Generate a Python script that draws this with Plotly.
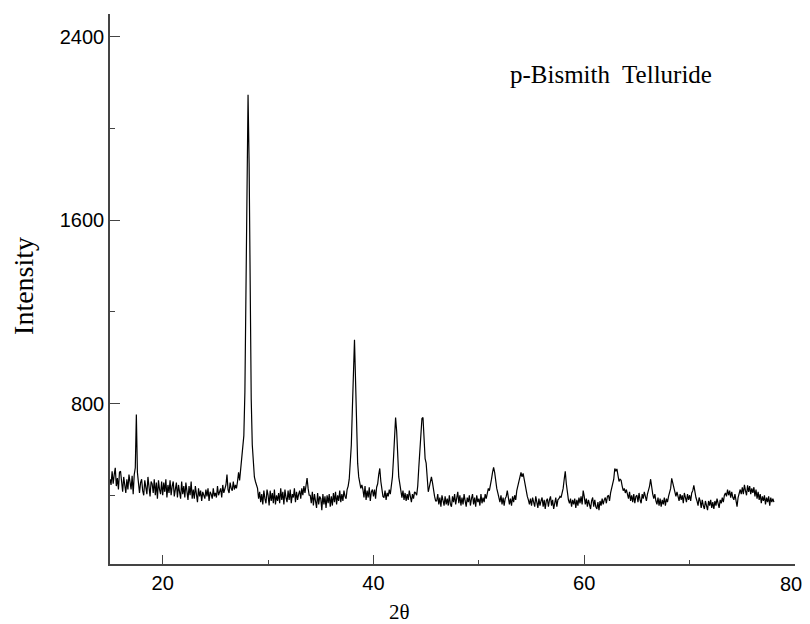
import plotly.graph_objects as go

# 2-theta grid: 15.0 .. 78.0 in steps of 0.1 degree
x_start = 15.0
x_step = 0.1

# Intensity values, one row per degree (10 points each)
intensity_rows = [
    [470, 445, 505, 450, 490, 520, 440, 475, 425, 500],   # 15
    [505, 450, 415, 480, 435, 410, 470, 425, 490, 450],   # 16
    [425, 485, 405, 490, 520, 752, 500, 455, 410, 455],   # 17
    [470, 420, 400, 465, 440, 405, 480, 430, 395, 460],   # 18
    [450, 410, 470, 400, 455, 385, 465, 425, 405, 460],   # 19
    [400, 455, 415, 470, 390, 445, 410, 465, 400, 440],   # 20
    [460, 395, 420, 455, 390, 445, 415, 385, 460, 405],   # 21
    [440, 390, 455, 415, 380, 440, 400, 460, 385, 425],   # 22
    [385, 440, 405, 370, 430, 395, 420, 375, 415, 400],   # 23
    [385, 425, 395, 430, 375, 415, 405, 385, 430, 395],   # 24
    [410, 390, 440, 400, 420, 430, 390, 445, 410, 430],   # 25
    [445, 490, 425, 410, 455, 430, 420, 460, 425, 445],   # 26
    [430, 460, 500, 465, 520, 580, 600, 660, 850, 1300],  # 27
    [1800, 2148, 1850, 1250, 820, 620, 530, 480, 460, 440],  # 28
    [430, 385, 415, 370, 405, 360, 420, 385, 365, 425],   # 29
    [400, 355, 420, 375, 410, 365, 425, 360, 400, 375],   # 30
    [410, 365, 430, 380, 415, 360, 425, 390, 370, 420],   # 31
    [380, 425, 365, 405, 390, 430, 370, 415, 380, 405],   # 32
    [420, 385, 430, 400, 440, 410, 445, 475, 430, 400],   # 33
    [400, 365, 415, 355, 405, 375, 345, 410, 360, 395],   # 34
    [385, 335, 405, 360, 395, 345, 400, 365, 405, 350],   # 35
    [395, 355, 410, 370, 415, 360, 400, 375, 420, 370],   # 36
    [405, 375, 420, 395, 385, 425, 440, 470, 560, 620],   # 37
    [780, 980, 1078, 900, 680, 540, 480, 455, 430, 445],  # 38
    [425, 390, 440, 380, 420, 390, 435, 375, 415, 425],   # 39
    [395, 425, 385, 435, 450, 490, 517, 460, 415, 395],   # 40
    [390, 420, 380, 410, 395, 425, 405, 440, 480, 560],   # 41
    [650, 739, 680, 560, 480, 450, 415, 390, 420, 380],   # 42
    [410, 375, 405, 380, 420, 390, 370, 405, 385, 415],   # 43
    [410, 400, 440, 520, 580, 660, 735, 739, 640, 560],   # 44
    [540, 470, 415, 435, 470, 480, 455, 415, 395, 375],   # 45
    [375, 405, 360, 390, 350, 400, 365, 355, 395, 360],   # 46
    [385, 355, 400, 360, 350, 395, 370, 405, 360, 390],   # 47
    [415, 365, 400, 355, 390, 360, 405, 375, 350, 390],   # 48
    [370, 400, 355, 385, 405, 360, 390, 350, 400, 370],   # 49
    [385, 355, 405, 365, 390, 370, 405, 385, 410, 430],   # 50
    [420, 440, 470, 500, 522, 500, 460, 430, 410, 390],   # 51
    [370, 400, 360, 390, 355, 385, 395, 420, 380, 360],   # 52
    [385, 355, 395, 370, 400, 380, 420, 440, 460, 470],   # 53
    [500, 480, 495, 470, 440, 415, 395, 380, 360, 385],   # 54
    [355, 390, 365, 350, 395, 370, 345, 385, 355, 375],   # 55
    [390, 350, 380, 340, 375, 385, 350, 380, 395, 355],   # 56
    [380, 340, 370, 390, 350, 380, 385, 395, 390, 410],   # 57
    [430, 470, 504, 450, 405, 380, 365, 385, 350, 380],   # 58
    [360, 385, 345, 380, 355, 390, 365, 395, 360, 420],   # 59
    [395, 360, 385, 350, 380, 360, 340, 375, 390, 350],   # 60
    [380, 350, 340, 370, 335, 375, 355, 385, 360, 380],   # 61
    [390, 365, 395, 400, 375, 410, 430, 450, 470, 517],   # 62
    [505, 515, 480, 460, 470, 465, 440, 420, 430, 410],   # 63
    [425, 395, 385, 415, 375, 400, 370, 405, 365, 395],   # 64
    [400, 370, 410, 380, 365, 405, 385, 415, 390, 375],   # 65
    [405, 420, 440, 470, 430, 405, 385, 405, 375, 360],   # 66
    [390, 355, 385, 350, 380, 360, 390, 355, 385, 370],   # 67
    [395, 410, 430, 474, 450, 440, 415, 395, 415, 385],   # 68
    [375, 405, 380, 400, 365, 410, 385, 370, 405, 380],   # 69
    [400, 375, 410, 420, 443, 405, 390, 375, 355, 390],   # 70
    [375, 345, 380, 355, 340, 375, 360, 335, 375, 355],   # 71
    [380, 345, 370, 340, 375, 355, 385, 360, 345, 380],   # 72
    [365, 390, 370, 400, 410, 395, 425, 400, 420, 390],   # 73
    [415, 390, 380, 405, 365, 350, 390, 405, 425, 405],   # 74
    [435, 405, 445, 420, 400, 443, 415, 440, 405, 430],   # 75
    [410, 435, 395, 425, 385, 415, 380, 405, 365, 395],   # 76
    [375, 400, 360, 390, 370, 395, 355, 390, 370, 385],   # 77
    [370],                                                # 78
]

intensity = [v for row in intensity_rows for v in row]
two_theta = [round(x_start + i * x_step, 1) for i in range(len(intensity))]

x_major_ticks = [20, 40, 60, 80]
x_tick_labels = ["20", "40", "60", ""]   # "80" is drawn separately, nudged inward to fit
x_last_label = "80"
x_minor_ticks = [30, 50, 70]
y_major_ticks = [800, 1600, 2400]
y_minor_ticks = [400, 1200, 2000]

axis_color = "#444444"
serif = "Liberation Serif, Times New Roman, serif"
sans = "Liberation Sans, Arial, sans-serif"

fig = go.Figure()
fig.add_trace(go.Scatter(
    x=two_theta, y=intensity, mode="lines",
    line=dict(color="black", width=1.2),
    showlegend=False, hoverinfo="skip",
))

# the page body adds an 8 px offset, so the figure is sized to fill the rest
fig.update_layout(
    width=802, height=616,
    margin=dict(l=102, r=15, t=6, b=60, autoexpand=False),
    paper_bgcolor="white", plot_bgcolor="white",
    showlegend=False,
)

fig.update_xaxes(
    range=[15, 80], showgrid=False, zeroline=False, automargin=False,
    showline=True, linecolor=axis_color, linewidth=1.5,
    tickmode="array", tickvals=x_major_ticks, ticktext=x_tick_labels,
    ticks="inside", ticklen=9, tickwidth=1.3, tickcolor=axis_color,
    tickfont=dict(family=sans, size=20, color="black"),
    minor=dict(tickmode="array", tickvals=x_minor_ticks, ticks="inside",
               ticklen=4, tickwidth=1.3, tickcolor=axis_color),
)
fig.update_yaxes(
    range=[100, 2500], showgrid=False, zeroline=False, automargin=False,
    showline=True, linecolor=axis_color, linewidth=1.5,
    tickmode="array", tickvals=y_major_ticks,
    ticks="inside", ticklen=10, tickwidth=1.3, tickcolor=axis_color,
    tickfont=dict(family=sans, size=20, color="black"),
    minor=dict(tickmode="array", tickvals=y_minor_ticks, ticks="inside",
               ticklen=5, tickwidth=1.3, tickcolor=axis_color),
)

fig.add_annotation(
    text=x_last_label, xref="x", yref="paper", x=79.6, y=-0.0364,
    yanchor="middle", showarrow=False,
    font=dict(family=sans, size=20, color="black"),
)

# axis titles
fig.add_annotation(
    text="2θ", xref="x", yref="paper", x=42.5, y=-0.088,
    yanchor="middle", showarrow=False,
    font=dict(family=serif, size=21, color="black"),
)
fig.add_annotation(
    text="Intensity", xref="paper", yref="paper", x=-0.126, y=0.505,
    textangle=-90, xanchor="center", yanchor="middle", showarrow=False,
    font=dict(family=serif, size=28, color="black"),
)

fig.add_annotation(
    text="p-Bismith  Telluride", xref="x", yref="y",
    x=62.55, y=2236, showarrow=False,
    font=dict(family=serif, size=25, color="black"),
)

fig.write_html("out.html")
